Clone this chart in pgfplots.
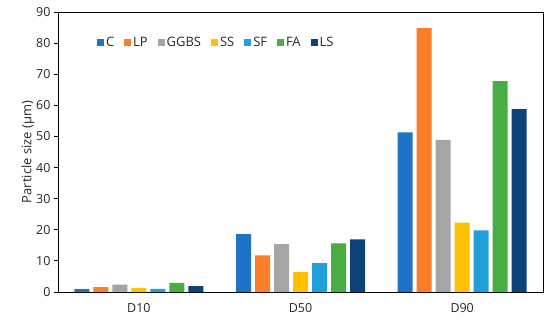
\documentclass[border=0pt]{standalone}
\usepackage{pgfplots}
\pgfplotsset{compat=1.18}
\usepackage{fontspec}
\setmainfont{Open Sans}
\definecolor{cC}{HTML}{1F73C6}
\definecolor{cLP}{HTML}{FD7E28}
\definecolor{cGG}{HTML}{A5A5A5}
\definecolor{cSS}{HTML}{FFC000}
\definecolor{cSF}{HTML}{22A0DC}
\definecolor{cFA}{HTML}{48AE44}
\definecolor{cLS}{HTML}{0B4277}
\begin{document}
\begin{tikzpicture}[x=1bp,y=1bp]
\path[use as bounding box] (-58,-31) rectangle (492,292);
\begin{axis}[
  at={(0,0)}, anchor=south west,
  scale only axis, width=485bp, height=280bp,
  ybar=4bp, bar width=15bp,
  xmin=-0.5, xmax=2.5, ymin=0, ymax=90,
  xtick={0,1,2}, xticklabels={D10,D50,D90},
  ytick={0,10,...,90},
  xtick style={draw=none},
  ytick style={black, line width=0.8bp},
  ytick pos=left, tick align=outside, major tick length=4bp,
  /pgf/number format/assume math mode=true,
  tick label style={font=\fontsize{12.5}{14}\selectfont, text=black!85},
  ylabel={Particle size (μm)},
  ylabel style={font=\fontsize{13}{15}\selectfont, text=black!85, yshift=-5bp},
  xticklabel style={yshift=-4bp},
  axis line style={black, line width=0.8bp},
  legend style={draw=none, fill=none, at={(0.074,0.89)}, anchor=west,
    font=\fontsize{13}{15}\selectfont, text=black!85,
    /tikz/every even column/.append style={column sep=8bp}},
  legend columns=-1,
  legend image code/.code={\fill[#1] (0bp,-3.5bp) rectangle (7bp,3.5bp);},
  every axis plot/.append style={draw=none},
]
\addplot[fill=cC] coordinates {(0,0.9) (1,18.6) (2,51.3)};
\addplot[fill=cLP] coordinates {(0,1.6) (1,11.8) (2,84.8)};
\addplot[fill=cGG] coordinates {(0,2.4) (1,15.4) (2,48.9)};
\addplot[fill=cSS] coordinates {(0,1.3) (1,6.5) (2,22.3)};
\addplot[fill=cSF] coordinates {(0,1.0) (1,9.3) (2,19.8)};
\addplot[fill=cFA] coordinates {(0,2.9) (1,15.6) (2,67.8)};
\addplot[fill=cLS] coordinates {(0,1.9) (1,16.9) (2,58.8)};
\legend{C,LP,GGBS,SS,SF,FA,LS}
\end{axis}
\end{tikzpicture}
\end{document}
